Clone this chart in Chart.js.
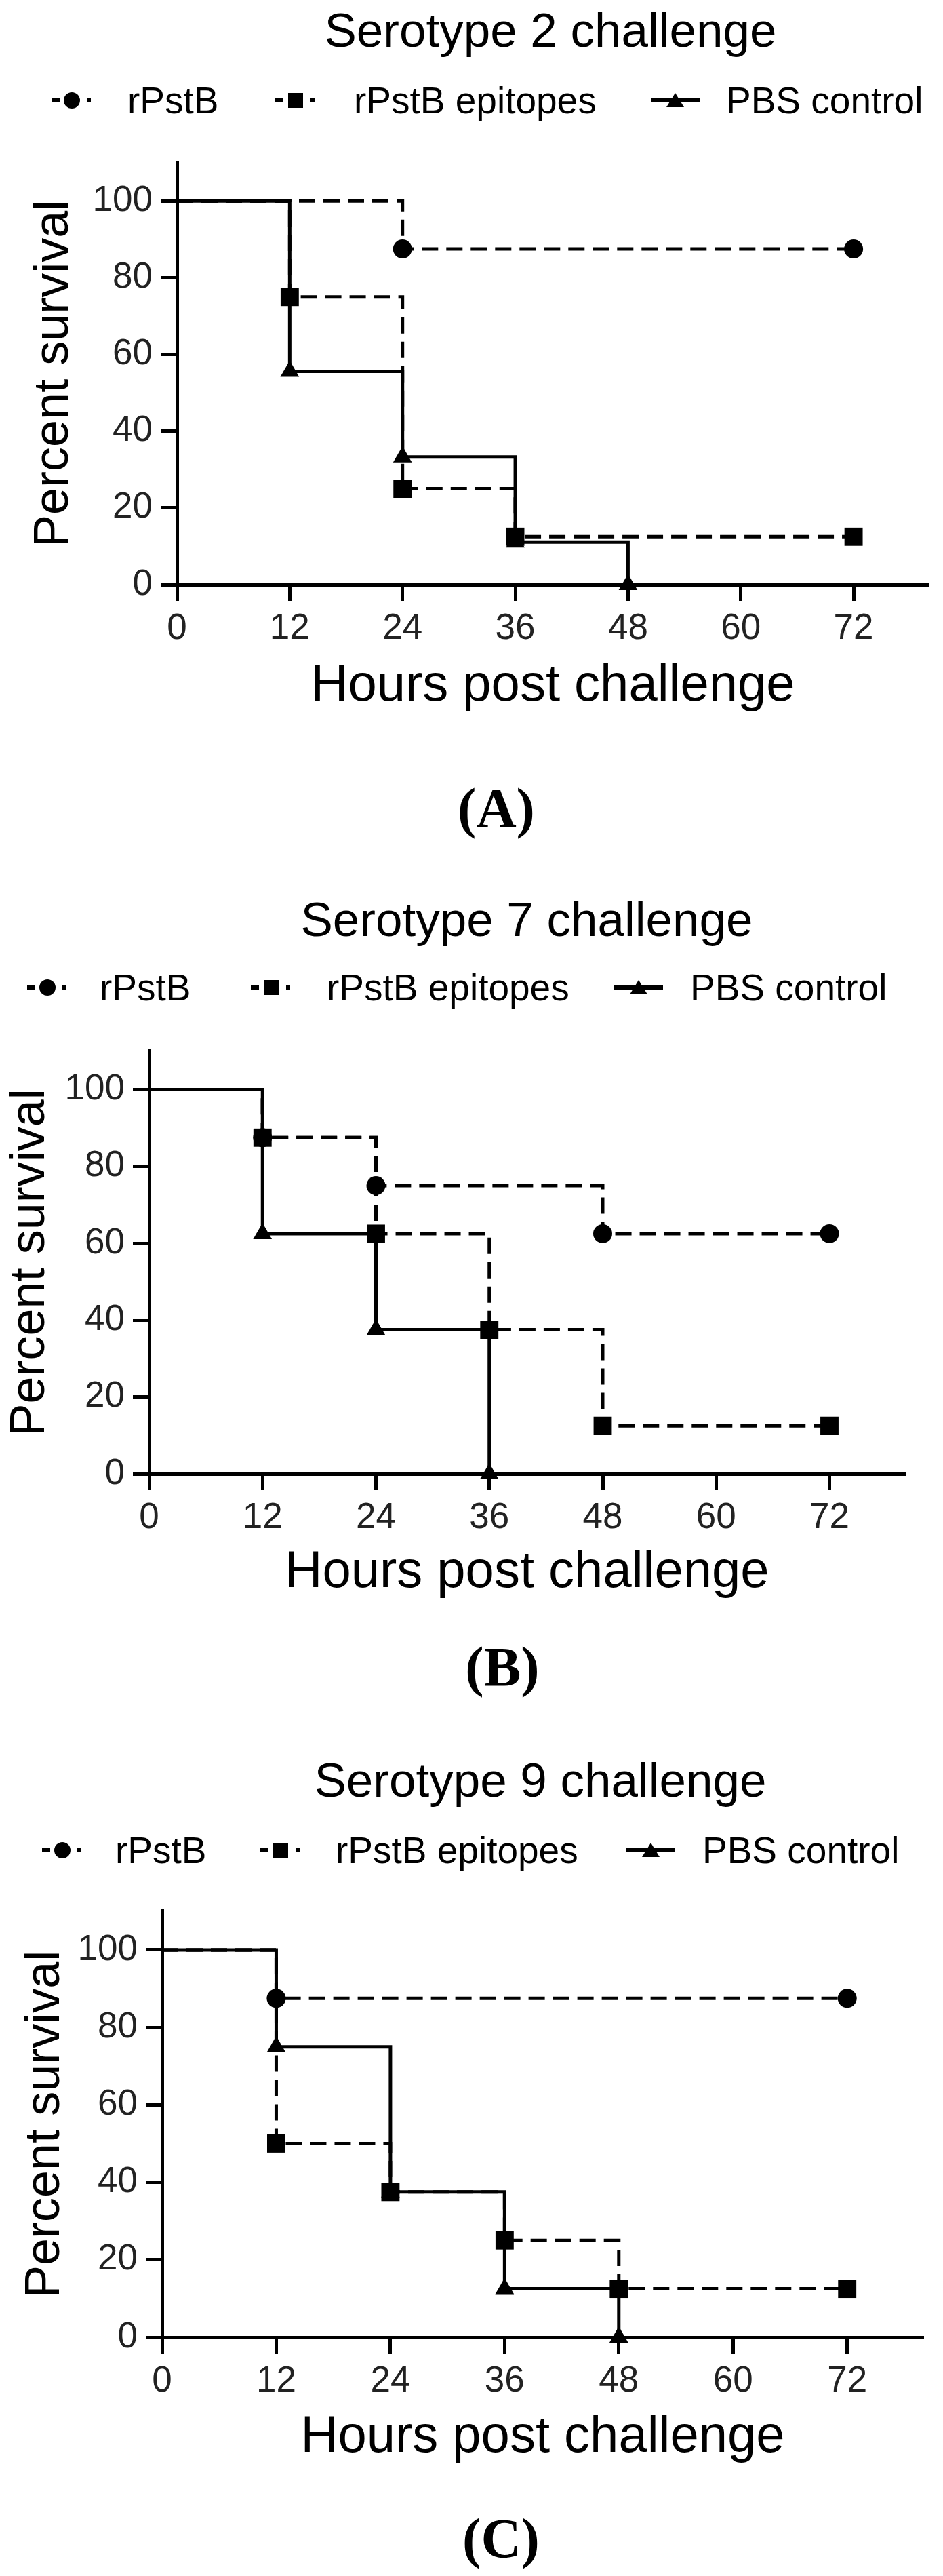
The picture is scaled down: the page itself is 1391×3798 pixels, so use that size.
<!DOCTYPE html>
<html><head><meta charset="utf-8">
<script src="https://cdn.jsdelivr.net/npm/chart.js@4/dist/chart.umd.min.js"></script>
<style>
body{margin:0;background:#fff;width:1391px;height:3798px;position:relative;overflow:hidden;font-family:"Liberation Sans",Arial,sans-serif;color:#000}
.t{position:absolute;white-space:nowrap;transform:translate(-50%,-50%);}
.title{font-size:71px}
.lab{font-family:"Liberation Serif",serif;font-weight:bold;font-size:82px}
.leg{position:absolute;font-size:55px;white-space:nowrap;transform:translateY(-50%)}
.sym{position:absolute;}
canvas{position:absolute;left:0}
</style></head><body>
<script>
// ---- data ----
const seriesNames = ["rPstB", "rPstB epitopes", "PBS control"];
const panelTitles = ["Serotype 2 challenge", "Serotype 7 challenge", "Serotype 9 challenge"];
const panelLabels = ["(A)", "(B)", "(C)"];
const xTicks = [0, 12, 24, 36, 48, 60, 72];
const yTicks = [0, 20, 40, 60, 80, 100];
// Kaplan-Meier step points: hours, percent survival
const s2_hours_rPstB = [0, 24, 72];           const s2_rPstB = [100, 87.5, 87.5];
const s2_hours_epi   = [0, 12, 24, 36, 72];   const s2_epi   = [100, 75, 25, 12.5, 12.5];
const s2_hours_pbs   = [0, 12, 24, 36, 48];   const s2_pbs   = [100, 55.6, 33.3, 11.1, 0];
const s7_hours_rPstB = [0, 12, 24, 48, 72];   const s7_rPstB = [100, 87.5, 75, 62.5, 62.5];
const s7_hours_epi   = [0, 12, 24, 36, 48, 72]; const s7_epi = [100, 87.5, 62.5, 37.5, 12.5, 12.5];
const s7_hours_pbs   = [0, 12, 24, 36];       const s7_pbs   = [100, 62.5, 37.5, 0];
const s9_hours_rPstB = [0, 12, 72];           const s9_rPstB = [100, 87.5, 87.5];
const s9_hours_epi   = [0, 12, 24, 36, 48, 72]; const s9_epi = [100, 50, 37.5, 25, 12.5, 12.5];
const s9_hours_pbs   = [0, 12, 24, 36, 48];   const s9_pbs   = [100, 75, 37.5, 12.5, 0];

const panelData = [
  [[s2_hours_rPstB, s2_rPstB], [s2_hours_epi, s2_epi], [s2_hours_pbs, s2_pbs]],
  [[s7_hours_rPstB, s7_rPstB], [s7_hours_epi, s7_epi], [s7_hours_pbs, s7_pbs]],
  [[s9_hours_rPstB, s9_rPstB], [s9_hours_epi, s9_epi], [s9_hours_pbs, s9_pbs]],
];

// ---- layout (page pixels) ----
const layout = [
  {L:261, R:1370, y0:862,  y100:266,  tick:932,  xt:1012, ytx:80, title:[812,44],  leg:148,  lab:[732,1192], legX:[76,188,406,522,960,1071]},
  {L:220, R:1335, y0:2173, y100:1576, tick:2240, xt:2319, ytx:45, title:[777,1355],leg:1456, lab:[741,2458], legX:[40,147,370,482,906,1018]},
  {L:239, R:1362, y0:3446, y100:2844, tick:3514, xt:3594, ytx:67, title:[797,2624],leg:2728, lab:[739,3743], legX:[62,170,384,495,924,1036]},
];
const styles = [
  {dash:[24,12], pointStyle:'circle', radius:14, order:2},
  {dash:[24,12], pointStyle:'rect', radius:19, order:1},
  {dash:[], pointStyle:'triangle', radius:16, order:3},
];
const FONT = '"Liberation Sans", Arial, sans-serif';

function legendSvg(i){
  const s = styles[i];
  let m = '';
  if (s.pointStyle==='circle') m = '<circle cx="30" cy="20" r="12" fill="#000"/>';
  if (s.pointStyle==='rect') m = '<rect x="19" y="9" width="22" height="22" fill="#000"/>';
  if (s.pointStyle==='triangle') m = '<polygon points="36,9 49,30 23,30" fill="#000"/>';
  const line = s.dash.length
    ? '<rect x="0" y="17" width="12" height="6" fill="#000"/><rect x="52" y="17" width="6" height="6" fill="#000"/>'
    : '<rect x="0" y="17" width="72" height="6" fill="#000"/>';
  return '<svg width="74" height="40">'+line+m+'</svg>';
}

layout.forEach((p, k) => {
  const add = (cls, txt, x, y) => { const d=document.createElement('div'); d.className=cls; d.textContent=txt; d.style.left=x+'px'; d.style.top=y+'px'; document.body.appendChild(d); return d; };
  add('t title', panelTitles[k], p.title[0], p.title[1]);
  add('t lab', panelLabels[k], p.lab[0], p.lab[1]);
  for (let i=0;i<3;i++){
    const sv=document.createElement('div'); sv.className='sym'; sv.innerHTML=legendSvg(i);
    sv.style.left=p.legX[2*i]+'px'; sv.style.top=(p.leg-20)+'px'; document.body.appendChild(sv);
    add('leg', seriesNames[i], p.legX[2*i+1], p.leg);
  }
  const per = (p.y0 - p.y100)/100;
  const axisTop = p.y0 - per*110;
  const cTop = Math.round(axisTop - 10);
  const cBottom = p.xt + 46;
  const H = cBottom - cTop;
  const padLeft = p.ytx - 43;
  const cv = document.createElement('canvas');
  cv.style.top = cTop+'px'; cv.style.width='1391px'; cv.style.height=H+'px';
  document.body.appendChild(cv);
  const datasets = panelData[k].map((d, i) => ({
    label: seriesNames[i],
    data: d[0].map((x, j) => ({x, y: d[1][j]})),
    stepped: 'before',
    borderColor:'#000', backgroundColor:'#000', borderWidth:5,
    borderDash: styles[i].dash,
    pointStyle: styles[i].pointStyle,
    pointRadius: d[0].map(x => x===0 ? 0 : styles[i].radius),
    pointBackgroundColor:'#000', pointBorderColor:'#000', pointBorderWidth:0,
    order: styles[i].order, clip:false, fill:false,
  }));
  new Chart(cv, {
    type:'scatter',
    data:{datasets: datasets.map(d=>Object.assign(d,{showLine:true}))},
    options:{
      responsive:false, animation:false, devicePixelRatio:1,
      layout:{padding:{top:10, right:1391-p.R, left:padLeft, bottom:0}},
      plugins:{legend:{display:false}, tooltip:{enabled:false}},
      scales:{
        x:{type:'linear', min:0, max:80,
          afterBuildTicks: s => { s.ticks = xTicks.map(v=>({value:v})); },
          afterFit: s => { s.height = cBottom - p.y0; },
          border:{color:'#000', width:5},
          grid:{drawOnChartArea:false, drawTicks:true, tickLength:24, tickWidth:5, tickColor:'#000'},
          ticks:{color:'#222', font:{family:FONT, size:53}, padding:10, maxRotation:0, autoSkip:false},
          title:{display:true, text:'Hours post challenge', color:'#000', font:{family:FONT, size:76}, padding:0}
        },
        y:{type:'linear', min:0, max:110,
          afterBuildTicks: s => { s.ticks = yTicks.map(v=>({value:v})); },
          afterFit: s => { s.width = p.L - padLeft; },
          border:{color:'#000', width:5},
          grid:{drawOnChartArea:false, drawTicks:true, tickLength:24, tickWidth:5, tickColor:'#000'},
          ticks:{color:'#222', font:{family:FONT, size:53}, padding:12},
          title:{display:true, text:'Percent survival', color:'#000', font:{family:FONT, size:72}, padding:0}
        }
      }
    }
  });
  cv.style.width='1391px'; cv.style.height=H+'px';
});
</script>
<script>
// ensure canvases sized (responsive false uses attributes)
</script>
</body></html>
